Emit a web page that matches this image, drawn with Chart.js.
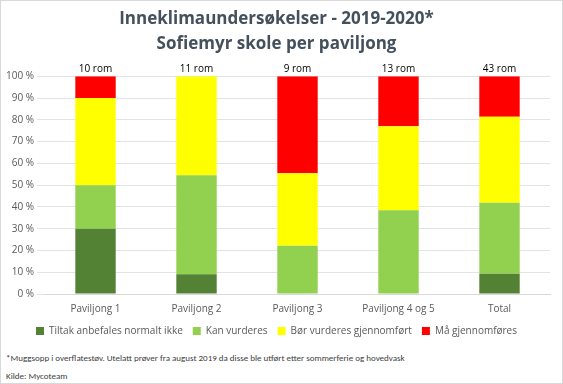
<!DOCTYPE html>
<html>
<head>
<meta charset="utf-8">
<script src="https://cdn.jsdelivr.net/npm/chart.js@4"></script>
<style>
  body { margin: 0; background: #fff; }
  #wrap { position: relative; width: 563px; height: 384px; box-sizing: border-box; border: 1px solid #d9d9d9; }
  .note { position: absolute; left: 5px; font-family: Carlito, "Liberation Sans", sans-serif; font-size: 9px; color: #404040; }
</style>
</head>
<body>
<div id="wrap">
  <canvas id="chart" width="561" height="345"></canvas>
  <div class="note" style="top:351px">*Muggsopp i overflatestøv. Utelatt prøver fra august 2019 da disse ble utført etter  sommerferie og hovedvask</div>
  <div class="note" style="top:369px">Kilde: Mycoteam</div>
</div>
<script>
// Kategorier og antall rom
const categories = ['Paviljong 1', 'Paviljong 2', 'Paviljong 3', 'Paviljong 4 og 5', 'Total'];
const roomLabels = ['10 rom', '11 rom', '9 rom', '13 rom', '43 rom'];

// Andel rom (%) per kategori
const tiltakIkke = [30, 9.1, 0, 0, 9.3];
const kanVurderes = [20, 45.5, 22.2, 38.5, 32.6];
const borVurderes = [40, 45.4, 33.3, 38.5, 39.5];
const maGjennomfores = [10, 0, 44.5, 23.0, 18.6];

const yTicks = [0, 10, 20, 30, 40, 50, 60, 70, 80, 90, 100];

const font = "'Open Sans', 'Noto Sans', sans-serif";

// Tekst over hver stolpe
const roomLabelPlugin = {
    id: 'roomLabels',
    afterDatasetsDraw(chart) {
        const ctx = chart.ctx;
        const x = chart.scales.x;
        const y = chart.scales.y;
        ctx.save();
        ctx.font = '10px ' + font;
        ctx.fillStyle = '#000';
        ctx.textAlign = 'center';
        ctx.textBaseline = 'bottom';
        roomLabels.forEach((label, i) => {
            ctx.fillText(label, x.getPixelForValue(i), y.getPixelForValue(100) - 2);
        });
        ctx.restore();
    }
};

new Chart(document.getElementById('chart').getContext('2d'), {
    type: 'bar',
    data: {
        labels: categories,
        datasets: [
            { label: 'Tiltak anbefales normalt ikke', data: tiltakIkke, backgroundColor: '#548235' },
            { label: 'Kan vurderes', data: kanVurderes, backgroundColor: '#92d050' },
            { label: 'Bør vurderes gjennomført', data: borVurderes, backgroundColor: '#ffff00' },
            { label: 'Må gjennomføres', data: maGjennomfores, backgroundColor: '#ff0000' }
        ]
    },
    options: {
        responsive: false,
        animation: false,
        layout: { padding: { left: 2, right: 12, top: 0, bottom: 0 } },
        datasets: { bar: { categoryPercentage: 1, barPercentage: 0.4 } },
        scales: {
            x: {
                stacked: true,
                grid: { display: false },
                border: { color: '#d9d9d9' },
                ticks: { color: '#595959', font: { family: font, size: 10 }, padding: 1 }
            },
            y: {
                stacked: true,
                min: 0,
                max: 100,
                afterBuildTicks: axis => { axis.ticks = yTicks.map(v => ({ value: v })); },
                grid: { color: '#e3e3e3' },
                border: { display: false },
                ticks: {
                    color: '#595959',
                    font: { family: font, size: 10 },
                    callback: v => v + ' %'
                }
            }
        },
        plugins: {
            title: {
                display: true,
                text: ['Inneklimaundersøkelser - 2019-2020*', 'Sofiemyr skole per paviljong'],
                color: '#44505c',
                font: { family: font, size: 17, weight: 'bold', lineHeight: 1.45 },
                padding: { top: 6, bottom: 20 }
            },
            legend: {
                position: 'bottom',
                labels: {
                    color: '#595959',
                    font: { family: font, size: 10 },
                    boxWidth: 8,
                    boxHeight: 8,
                    padding: 10
                }
            },
            tooltip: { enabled: false }
        }
    },
    plugins: [roomLabelPlugin]
});
</script>
</body>
</html>
